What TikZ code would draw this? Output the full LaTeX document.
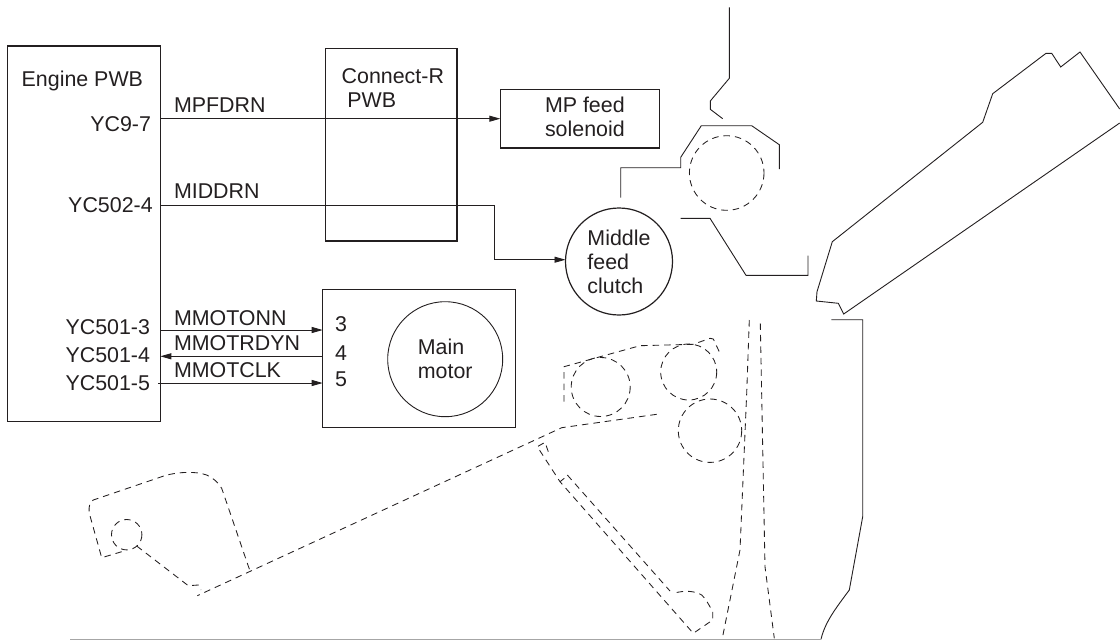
\documentclass[tikz,border=0pt]{standalone}
\usepackage{fontspec}
\setmainfont{Liberation Sans}
\usetikzlibrary{arrows.meta}
\definecolor{ink}{HTML}{231F20}
\tikzset{
  boxshape/.style={draw=ink,line width=1.3pt,rectangle,inner sep=0pt,outer sep=0pt},
  roundunit/.style={draw=ink,circle,inner sep=0pt,outer sep=0pt,align=left,text=ink,font=\fontsize{21.4}{24}\selectfont},
  txt/.style={inner sep=0pt,outer sep=0pt,text=ink,font=\fontsize{21.4}{24}\selectfont,anchor=base west},
  txtr/.style={txt,anchor=base east},
  wire/.style={draw=ink,line width=0.9pt},
  arrowwire/.style={wire,-{Stealth[length=11pt,width=6pt,inset=0pt]}},
  mech/.style={draw=ink,line width=0.9pt,line join=miter},
  hidden/.style={draw=ink,line width=0.85pt,dash pattern=on 6.5pt off 5pt}
}
\begin{document}
\begin{tikzpicture}[x=1pt,y=-1pt]
\useasboundingbox (0,0) rectangle (1120,640);
% boxes
\node[boxshape,minimum width=153pt,minimum height=375.6pt] (engine) at (83.8,233.9) {};
\node[boxshape,minimum width=131.7pt,minimum height=192.3pt] (connect) at (391.2,144.9) {};
\node[boxshape,minimum width=159pt,minimum height=58.7pt] (mp) at (579.8,118.7) {};
\node[roundunit,line width=1.2pt,minimum size=107pt] (clutch) at (619,261.5) {Middle\\feed\\clutch};
\node[boxshape,minimum width=193pt,minimum height=138pt] (main) at (419.2,358.3) {};
\node[roundunit,line width=0.9pt,minimum size=115pt] (motor) at (445.2,359.2) {Main\\motor};
% labels
\node[txt] (lengine) at (21.7,86) {Engine PWB};
\node[txtr] (lyc97) at (151,131.3) {YC9-7};
\node[txtr] (lyc502) at (152.7,212) {YC502-4};
\node[txtr] (lyc3) at (150,334.3) {YC501-3};
\node[txtr] (lyc4) at (150,362.3) {YC501-4};
\node[txtr] (lyc5) at (150,390.3) {YC501-5};
\node[txt] (lmpf) at (174,112) {MPFDRN};
\node[txt] (lmid) at (174,198.3) {MIDDRN};
\node[txt] (lon) at (174,325) {MMOTONN};
\node[txt] (lrdy) at (174,350.7) {MMOTRDYN};
\node[txt] (lclk) at (174,377.7) {MMOTCLK};
\node[txt] (lconn) at (341.7,83.3) {Connect-R};
\node[txt] (lpwb) at (347.3,107.3) {PWB};
\node[txt] (lmp1) at (545,112.3) {MP feed};
\node[txt] (lmp2) at (545,136.3) {solenoid};
\node[txt] (p3) at (335,331.7) {3};
\node[txt] (p4) at (335,360) {4};
\node[txt] (p5) at (335,386.7) {5};
% connector pins
\coordinate (pin502) at (160.3,205);
\coordinate (bendA) at (494.3,205);
\coordinate (bendB) at (494.3,259.7);
\coordinate (pin3) at (160.3,330);
\coordinate (pin4) at (160.3,356.3);
\coordinate (pin5) at (158,383);
\coordinate (m3) at (322.7,330);
\coordinate (m4) at (322.7,356.3);
\coordinate (m5) at (322.7,383);
% connectors
\draw[arrowwire] (engine.east |- mp.west) -- (mp.west);
\draw[arrowwire] (pin502) -- (bendA) -- (bendB) -- (bendB -| clutch.west);
\draw[arrowwire] (pin3) -- (m3);
\draw[arrowwire] (m4) -- (pin4);
\draw[arrowwire] (pin5) -- (m5);
% solid mechanism
\draw[mech] (729.3,7.3) -- (729.3,78.3) -- (710.3,101) -- (710.3,109.3) -- (722.7,118.7);
\draw[mech] (620.7,197.7) -- (620.7,167.7) -- (680.7,167.7) -- (680.7,157.3) -- (701.3,125.7) -- (751.7,125.7) -- (779.3,144.7) -- (779.3,169);
\draw[mech] (680.7,218.3) -- (710,218.3) -- (746,275.3) -- (808,275.3) -- (808,255.7);
\draw[mech] (1119.7,109) -- (1080,52) -- (1060.7,67) -- (1051.7,53.3) -- (1046,53.3) -- (992.7,93.7) -- (982.7,122.3) -- (832.3,241.7) -- (817,291.7) -- (816.3,301) -- (838.3,303.3) -- (843.7,314) -- (1119.7,123);
\draw[mech] (831.3,319.7) -- (862.7,319.7) -- (862.7,516.7) -- (849.3,590) .. controls (836,608) and (825,622) .. (821,639.3);
\draw[draw=black!35,line width=1pt] (70,639.3) -- (821,639.3);
% hidden parts
\draw[hidden] (726.7,173) circle[radius=37.3];
\draw[hidden] (600.7,387) circle[radius=29.5];
\draw[hidden] (688.7,372) circle[radius=28];
\draw[hidden] (710,430.7) circle[radius=31.7];
\draw[hidden] (126.7,534.7) circle[radius=15.2];
\draw[hidden] (749.3,320) -- (746.7,393.3) -- (740,550) -- (722.3,638.3);
\draw[hidden] (760.3,323.3) -- (765,566.7) -- (774.3,638.3);
\draw[hidden] (564,401.7) -- (564,366.7) -- (640,345.7) -- (693.3,344.3) -- (710,338.3) -- (713.3,339) -- (720,353.3);
\draw[hidden] (656.7,414.3) -- (561.7,427.7) -- (197.3,595.7);
\draw[hidden] (548.3,451.7) -- (545,442.3) -- (537.3,446.7) -- (560,481.7) -- (693.3,633.3) -- (712.7,620) -- (712.7,611.7) .. controls (708,603) and (705,598) .. (701.7,595) .. controls (695,591) and (685,590) .. (673.3,593.3);
\draw[hidden] (560,481.7) -- (564.3,478.3);
\draw[hidden] (567.3,475) -- (670,591);
\draw[hidden] (121.7,551.7) -- (101.7,557.7) -- (89.3,513.3) .. controls (88.5,505) and (90,502) .. (93.3,500) -- (166.7,475) .. controls (180,472) and (195,471) .. (206.7,475) .. controls (213,478) and (218,482) .. (221.7,488.3) -- (250,571);
\draw[hidden] (136.7,546) -- (188.3,585.7) -- (198.3,585) -- (201,590);
\end{tikzpicture}
\end{document}
